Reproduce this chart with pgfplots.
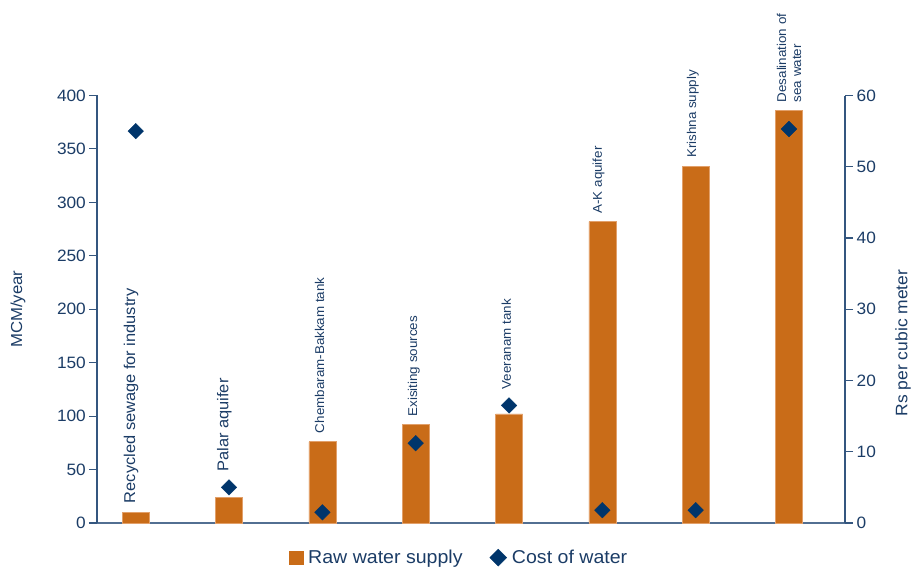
\documentclass[border=0pt]{standalone}
\usepackage{pgfplots}
\usepackage{pgfplotstable}
\pgfplotsset{compat=1.18}
\usepackage{fontspec}
\setmainfont{Liberation Sans}[FakeStretch=1.05]

\definecolor{barorange}{HTML}{C96C18}
\definecolor{baredge}{HTML}{E2A06A}
\definecolor{navy}{HTML}{00356B}
\definecolor{txtblue}{HTML}{1B3C66}
\definecolor{axblue}{HTML}{34567F}

% source, raw water supply (MCM/year), cost of water (Rs per cubic meter)
\pgfplotstableread{
x supply cost
0 10  55
1 24  5
2 76  1.5
3 92  11.2
4 102 16.5
5 282 1.8
6 334 1.8
7 386 55.3
}\datatable

\pgfplotsset{
  common/.style={
    at={(0,0)}, anchor=south west,
    scale only axis, width=748bp, height=427.5bp,
    xmin=-0.415, xmax=7.60,
    clip=false,
    axis line style={draw=axblue, line width=1.1bp},
    tick style={draw=axblue, line width=1.1bp},
    tick align=outside, major tick length=8bp,
    xtick=\empty,
    /pgf/number format/assume math mode=true,
    yticklabel style={font=\fontsize{16.5}{16.5}\selectfont, text=txtblue},
  }
}

\begin{document}
\begin{tikzpicture}
\path[use as bounding box] (-97bp,-44bp) rectangle (816bp,523bp);

\begin{axis}[
  common,
  ymin=0, ymax=400, ytick={0,50,...,400},
  axis x line*=bottom, axis y line*=left,
  x axis line style={draw=axblue!85!white, line width=1.4bp, -},
  y axis line style={-},
  yticklabel style={inner xsep=3bp},
  ylabel={MCM/year},
  ylabel style={at={(axis description cs:-0.1056,0.5)}, anchor=center,
    font=\fontsize{16}{16}\selectfont, text=txtblue},
]
\addplot[ybar, bar width=27bp, fill=barorange, draw=baredge, line width=0.6bp]
  table[x=x, y=supply] {\datatable};

% category names above each column
\begin{scope}[every node/.style={rotate=90, anchor=west, inner sep=0pt, text=txtblue}]
\node[font=\fontsize{15.7}{15.7}\selectfont] at (axis cs:-0.05,18.5) {Recycled sewage for industry};
\node[font=\fontsize{15.7}{15.7}\selectfont] at (axis cs:0.95,48) {Palar aquifer};
\node[font=\fontsize{12.8}{12.8}\selectfont] at (axis cs:1.97,84) {Chembaram-Bakkam tank};
\node[font=\fontsize{12.8}{12.8}\selectfont] at (axis cs:2.98,99.5) {Exisiting sources};
\node[font=\fontsize{12.8}{12.8}\selectfont] at (axis cs:3.97,125) {Veeranam tank};
\node[font=\fontsize{12.8}{12.8}\selectfont] at (axis cs:4.96,289.5) {A-K aquifer};
\node[font=\fontsize{12.8}{12.8}\selectfont] at (axis cs:5.97,341.5) {Krishna supply};
\node[font=\fontsize{12.8}{15}\selectfont, align=left] at (axis cs:7,393.5) {Desalination of\\sea water};
\end{scope}
\end{axis}

\begin{axis}[
  common,
  ymin=0, ymax=60, ytick={0,10,...,60},
  axis x line=none, axis y line*=right,
  y axis line style={-},
  yticklabel style={inner xsep=3.5bp},
  ylabel={Rs per cubic meter},
  ylabel style={at={(axis description cs:1.0775,0.421)}, anchor=center, rotate=0,
    font=\fontsize{16.7}{16.7}\selectfont, text=txtblue},
  legend style={at={(axis description cs:0.484,-0.081)}, anchor=center,
    draw=none, fill=none, legend columns=2,
    font=\fontsize{18.7}{18.7}\selectfont, text=txtblue,
    /tikz/every even column/.append style={column sep=25bp}},
  legend cell align=left,
]
\addlegendimage{legend image code/.code={
  \fill[barorange] (0bp,-6.8bp) rectangle (14bp,6.8bp);
  \path (17bp,0bp);}}
\addlegendentry{Raw water supply}
\addplot[only marks, mark=square*, mark size=5.5bp,
  mark options={rotate=45, fill=navy, draw=navy},
  legend image code/.code={\draw[only marks, mark=square*, mark size=6bp,
    mark options={rotate=45, fill=navy, draw=navy}] plot coordinates {(8.5bp,0bp)};
    \path (0bp,0bp) (20bp,0bp);}]
  table[x=x, y=cost] {\datatable};
\addlegendentry{Cost of water}
\end{axis}
\end{tikzpicture}
\end{document}
